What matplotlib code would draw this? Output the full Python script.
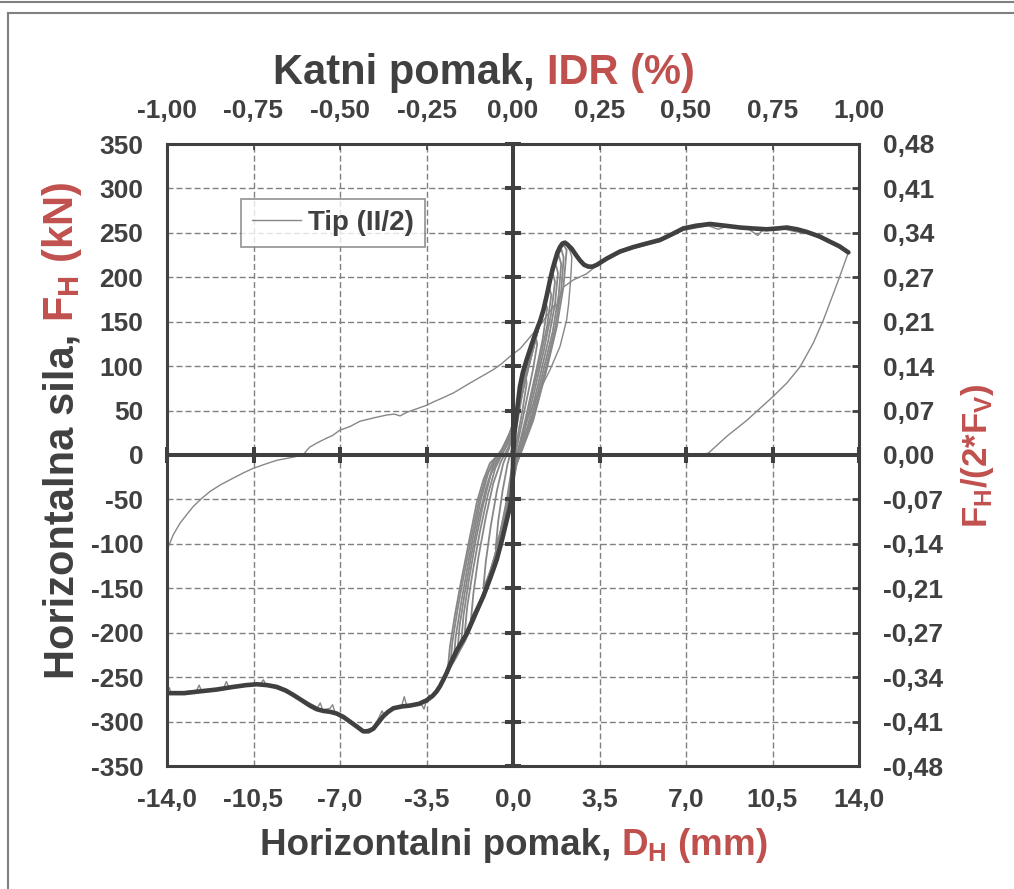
import matplotlib
matplotlib.use("Agg")
import matplotlib.pyplot as plt
from matplotlib.lines import Line2D

plt.rcParams['font.family'] = ['Liberation Sans', 'DejaVu Sans']
plt.rcParams['font.weight'] = 'bold'
plt.rcParams['mathtext.default'] = 'regular'
plt.rcParams['lines.scale_dashes'] = False

DARK = '#404040'
RED = '#C0504D'
THIN = '#878787'
GRID = '#808080'

# --- tick labels ---------------------------------------------------------
x_ticks = [-14.0, -10.5, -7.0, -3.5, 0.0, 3.5, 7.0, 10.5, 14.0]
x_labels = ['-14,0', '-10,5', '-7,0', '-3,5', '0,0', '3,5', '7,0', '10,5', '14,0']
idr_ticks = [-1.0, -0.75, -0.5, -0.25, 0.0, 0.25, 0.5, 0.75, 1.0]
idr_labels = ['-1,00', '-0,75', '-0,50', '-0,25', '0,00', '0,25', '0,50', '0,75', '1,00']
y_ticks = [350, 300, 250, 200, 150, 100, 50, 0, -50, -100, -150, -200, -250, -300, -350]
ratio_labels = ['0,48', '0,41', '0,34', '0,27', '0,21', '0,14', '0,07', '0,00',
                '-0,07', '-0,14', '-0,21', '-0,27', '-0,34', '-0,41', '-0,48']

# --- envelope (thick) ----------------------------------------------------
env_d = [-14.0, -13.3, -12.67, -12.0, -11.32, -10.8, -10.37, -9.95, -9.56, -9.2, -8.89,
         -8.55, -8.22, -7.95, -7.68, -7.4, -7.13, -6.85, -6.6, -6.3, -6.06, -5.85, -5.65,
         -5.45, -5.25, -5.05, -4.84, -4.5, -4.17, -3.8, -3.49, -3.25, -3.09, -2.95, -2.82,
         -2.68, -2.55, -2.28, -1.87, -1.55, -1.2, -0.9, -0.66, -0.45, -0.25, -0.12, -0.05,
         -0.01, 0.01, 0.06, 0.15, 0.28, 0.4, 0.55, 0.75, 0.96, 1.1, 1.23, 1.37, 1.5, 1.6,
         1.7, 1.8, 1.9, 2.0, 2.1, 2.2, 2.38, 2.55, 2.71, 2.88, 3.05, 3.22, 3.39, 3.79,
         4.06, 4.33, 4.87, 5.4, 5.95, 6.4, 6.89, 7.4, 7.97, 8.6, 9.19, 9.7, 10.27, 10.7,
         11.08, 11.5, 11.89, 12.4, 12.83, 13.2, 13.57]
env_f = [-268, -268, -266, -264, -261, -259, -258, -259, -261, -265, -270,
         -276, -282, -286, -288, -289, -291, -295, -300, -306, -311, -311, -308,
         -301, -294, -289, -285, -283, -282, -280, -276, -271, -266, -260, -253,
         -245, -236, -220, -201, -180, -159, -137, -118, -96, -73, -58, -47,
         -25, 2, 25, 47, 77, 93, 107, 124, 141, 151, 163, 180, 197, 209,
         219, 228, 234, 238, 239, 237, 232, 225, 219, 214, 212, 212, 214, 221,
         225, 229, 234, 238, 242, 248, 255, 258, 260, 258, 256, 255, 254, 255,
         256, 254, 251, 246, 240, 235, 228]

# --- thin record under the negative envelope ----------------------------
neg_d = [-14.0, -13.9, -13.85, -12.8, -12.7, -12.6, -11.7, -11.6, -11.5, -10.2, -10.1,
         -10.0, -8.9, -7.9, -7.8, -7.7, -7.4, -7.3, -7.2, -6.6, -6.06, -5.65, -5.4, -5.3,
         -5.2, -4.84, -4.5, -4.4, -4.3, -3.7, -3.6, -3.5, -3.4, -3.3, -3.09, -2.82, -2.6]
neg_f = [-266, -262, -268, -265, -259, -266, -262, -255, -261, -257, -253,
         -258, -270, -284, -279, -287, -285, -281, -290, -299, -310, -307, -294, -288,
         -293, -284, -282, -272, -282, -281, -286, -276, -270, -274, -265, -252, -240]

# --- reloading from the left edge, last push and unloading ---------------
rel_d = [-14.0, -13.75, -13.48, -13.2, -12.94, -12.6, -12.26, -11.8, -11.32, -10.9, -10.51,
         -10.0, -9.56, -9.0, -8.49, -8.35, -8.22, -7.9, -7.54, -7.3, -7.0, -6.6, -6.19, -5.6,
         -5.11, -4.8, -4.57, -4.3, -3.9, -3.49, -3.2, -2.95, -2.4, -1.74, -1.3, -0.8, -0.45,
         -0.12, 0.3, 0.82, 1.2, 1.63, 1.72, 1.77, 1.85, 2.04, 2.44, 2.98, 3.24, 3.5, 4.0,
         4.8, 5.9, 6.9, 7.9, 8.3, 8.6, 9.5, 9.9, 10.1, 11.0, 11.5, 12.0, 12.5, 12.9, 13.57,
         13.17, 12.56, 12.15, 11.61, 11.08, 10.53, 9.46, 8.65, 7.9, 7.5]
rel_f = [-107, -90, -77, -67, -58, -49, -41, -33, -26, -20, -15,
         -10, -6, -3, 0, 5, 9, 14, 19, 22, 28, 32, 38, 42,
         45, 46, 44, 48, 52, 56, 60, 63, 70, 81, 88, 96, 103,
         111, 120, 137, 150, 167, 170, 163, 175, 189, 197, 204, 210, 215, 224,
         232, 240, 253, 258, 254, 257, 255, 247, 253, 254, 251, 249, 243, 238, 228,
         197, 152, 126, 99, 81, 66, 39, 21, 2, 0]

# --- unloading from the first peak ---------------------------------------
unl_d = [2.1, 2.3, 2.38, 2.35, 2.31, 2.25, 2.17, 1.9, 1.5, 0.96, 0.55, 0.3, 0.15, 0.0]
unl_f = [239, 230, 223, 205, 190, 170, 152, 122, 96, 66, 39, 15, 0, -20]

# --- cyclic loops --------------------------------------------------------
loop1_d = [-2.65, -2.55, -2.35, -2.14, -1.8, -1.47, -1.2, -0.93, -0.53, -0.12, 0.15, 0.35,
           0.6, 1.0, 1.3, 1.55, 1.78, 1.95, 2.05, 2.17, 2.04, 1.77, 1.36, 0.82, 0.4, 0.15,
           -0.05, -0.3, -0.7, -1.25, -1.9, -2.35, -2.65]
loop1_f = [-245, -215, -180, -148, -100, -54, -28, -9, 2, 25, 48, 70,
           105, 140, 170, 200, 222, 234, 236, 231, 189, 144, 96, 39, 8, -10,
           -40, -80, -125, -165, -205, -228, -245]
loop2_d = [-2.4, -2.32, -2.12, -1.9, -1.6, -1.3, -1.0, -0.7, -0.35, -0.05, 0.2, 0.45, 0.8,
           1.1, 1.4, 1.65, 1.85, 1.95, 1.85, 1.6, 1.2, 0.75, 0.35, 0.1, -0.1, -0.4, -0.85,
           -1.4, -1.95, -2.4]
loop2_f = [-232, -205, -170, -135, -90, -50, -20, -3, 10, 30, 55, 85, 120,
           150, 185, 210, 225, 215, 180, 138, 92, 42, 10, -12, -45, -88, -135,
           -175, -210, -232]
loop3_d = [-2.1, -2.0, -1.78, -1.5, -1.2, -0.9, -0.6, -0.3, 0.0, 0.25, 0.55, 0.9, 1.2,
           1.45, 1.6, 1.7, 1.55, 1.25, 0.85, 0.45, 0.15, -0.1, -0.35, -0.75, -1.2, -1.7, -2.1]
loop3_f = [-212, -180, -140, -95, -55, -22, -5, 8, 30, 58, 92, 128, 162,
           190, 205, 195, 160, 118, 70, 25, -5, -35, -70, -115, -155, -192, -212]
loop4_d = [-1.7, -1.6, -1.4, -1.1, -0.8, -0.5, -0.2, 0.05, 0.3, 0.6, 0.95, 1.2, 1.3,
           1.38, 1.2, 0.9, 0.5, 0.2, -0.05, -0.3, -0.65, -1.05, -1.45, -1.7]
loop4_f = [-185, -155, -115, -70, -32, -8, 8, 30, 60, 95, 135, 160, 175,
           165, 130, 90, 40, 5, -25, -60, -105, -145, -172, -185]
loop5_d = [-1.2, -1.1, -0.9, -0.65, -0.4, -0.15, 0.1, 0.35, 0.65, 0.9,
           0.98, 0.8, 0.5, 0.2, 0.0, -0.25, -0.55, -0.9, -1.2]
loop5_f = [-150, -120, -80, -40, -10, 8, 35, 68, 105, 135,
           125, 95, 55, 15, -15, -55, -95, -130, -150]
loop6_d = [-0.7, -0.6, -0.42, -0.22, 0.0, 0.2, 0.38, 0.5, 0.55, 0.38, 0.15, -0.05, -0.25,
           -0.5, -0.7]
loop6_f = [-105, -75, -40, -10, 12, 40, 70, 95, 80, 50, 15, -15, -50, -85, -105]
loop7_d = [-2.55, -2.45, -2.25, -2.02, -1.7, -1.38, -1.1, -0.8, -0.45, -0.1, 0.15, 0.4, 0.7,
           1.05, 1.35, 1.6, 1.82, 1.95, 2.05, 1.95, 1.7, 1.3, 0.8, 0.38, 0.12, -0.08, -0.35,
           -0.78, -1.33, -1.92, -2.3, -2.55]
loop7_f = [-240, -210, -175, -140, -95, -52, -25, -7, 5, 27, 50, 78, 112,
           145, 178, 205, 225, 232, 222, 185, 142, 95, 42, 8, -12, -42, -84,
           -130, -170, -207, -228, -240]
loop8_d = [-2.25, -2.16, -1.95, -1.7, -1.4, -1.1, -0.8, -0.5, -0.2, 0.05, 0.3, 0.6, 0.95,
           1.25, 1.5, 1.72, 1.82, 1.7, 1.42, 1.02, 0.6, 0.25, 0.0, -0.25, -0.6, -1.05, -1.55,
           -1.95, -2.25]
loop8_f = [-222, -192, -155, -115, -72, -38, -12, 3, 18, 40, 68, 102, 138,
           170, 198, 215, 205, 170, 128, 80, 33, 2, -25, -62, -108, -150, -185,
           -208, -222]
loop9_d = [-1.95, -1.85, -1.62, -1.33, -1.02, -0.72, -0.42, -0.12, 0.12, 0.4, 0.75, 1.05,
           1.3, 1.45, 1.55, 1.38, 1.05, 0.65, 0.3, 0.05, -0.2, -0.5, -0.9, -1.35, -1.7, -1.95]
loop9_f = [-200, -170, -130, -85, -45, -15, 2, 18, 42, 75, 112, 145,
           172, 190, 180, 145, 102, 55, 12, -18, -52, -92, -135, -170, -190, -200]

loops = [(loop1_d, loop1_f), (loop2_d, loop2_f), (loop3_d, loop3_f),
         (loop4_d, loop4_f), (loop5_d, loop5_f), (loop6_d, loop6_f),
         (loop7_d, loop7_f), (loop8_d, loop8_f), (loop9_d, loop9_f)]

W, H = 1014, 889
fig = plt.figure(figsize=(W / 100, H / 100), dpi=100)
ax = fig.add_axes([167 / W, 1 - 766 / H, 692 / W, 622 / H])

# thin test record
for d, f in loops:
    ax.plot(d, f, color=THIN, lw=1.3, zorder=3)
ax.plot(unl_d, unl_f, color=THIN, lw=1.0, zorder=3)
ax.plot(rel_d, rel_f, color=THIN, lw=1.0, zorder=3)
ax.plot(neg_d, neg_f, color=THIN, lw=1.0, zorder=3)

# zero lines with cross ticks
ax.axhline(0, color=DARK, lw=2.9, zorder=4)
ax.axvline(0, color=DARK, lw=2.9, zorder=4)
ax.plot(x_ticks, [0] * len(x_ticks), ls='none', marker='|', ms=11, mew=2.9,
        color=DARK, zorder=4, clip_on=False)
ax.plot([0] * len(y_ticks), y_ticks, ls='none', marker='_', ms=11, mew=2.9,
        color=DARK, zorder=4, clip_on=False)

# envelope
ax.plot(env_d, env_f, color=DARK, lw=3.3, zorder=5, solid_joinstyle='round',
        solid_capstyle='round')

ax.set_xlim(-14, 14)
ax.set_ylim(-350, 350)
ax.set_xticks(x_ticks)
ax.set_xticklabels(x_labels)
ax.set_yticks(y_ticks)
ax.set_yticklabels([str(v) for v in y_ticks])
ax.tick_params(axis='both', length=0, labelsize=19, labelcolor=DARK)
ax.tick_params(axis='x', pad=16)
ax.tick_params(axis='y', pad=17)
ax.grid(True, color=GRID, lw=1.0, linestyle=(0, (4.3, 2.2)), zorder=1)
for s in ax.spines.values():
    s.set_color(DARK)
    s.set_linewidth(2.2)
    s.set_zorder(6)

# drift on top
axt = ax.twiny()
axt.set_xlim(-1, 1)
axt.set_xticks(idr_ticks)
axt.set_xticklabels(idr_labels)
axt.tick_params(axis='x', direction='in', length=4, width=1.2, color=DARK,
                labelsize=19, labelcolor=DARK, pad=15)
for s in axt.spines.values():
    s.set_visible(False)

# force ratio on the right
axr = ax.twinx()
axr.set_ylim(-350, 350)
axr.set_yticks(y_ticks)
axr.set_yticklabels(ratio_labels)
axr.tick_params(axis='y', direction='in', length=5, width=2, color=DARK,
                labelsize=19, labelcolor=DARK, pad=17)
for s in axr.spines.values():
    s.set_visible(False)

leg = ax.legend([Line2D([], [], color=THIN, lw=1.0)], ['Tip (II/2)'],
                loc='upper left', bbox_to_anchor=(0.107, 0.9116), fontsize=20,
                frameon=True, fancybox=False, handlelength=1.75, handletextpad=0.25,
                borderpad=0.4, borderaxespad=0)
leg.get_frame().set_edgecolor(GRID)
leg.get_frame().set_linewidth(1.3)
leg.set_zorder(7)
for t in leg.get_texts():
    t.set_color(DARK)


def label_parts(parts, xc, base, size, vertical=False):
    """Write a title made of differently coloured pieces, centred on xc (or yc)."""
    r = fig.canvas.get_renderer()
    arts, lens = [], []
    for s, c in parts:
        t = fig.text(0, 0, s, color=c, fontsize=size, fontweight='bold',
                     ha='left', va='baseline', rotation_mode='anchor')
        lens.append(t.get_window_extent(r).width)
        arts.append(t)
    gap = size * 100 / 72 * 0.278
    total = sum(lens) + gap * (len(parts) - 1)
    off = 0
    for t, w in zip(arts, lens):
        if vertical:
            t.set_rotation(90)
            t.set_position((base / W, 1 - (xc + total / 2 - off) / H))
        else:
            t.set_position(((xc - total / 2 + off) / W, 1 - base / H))
        off += w + gap


label_parts([('Horizontalni pomak,', DARK), (r'D$_{\mathregular{H}}$ (mm)', RED)],
            514, 855, 26.5)
label_parts([('Katni pomak,', DARK), ('IDR (%)', RED)], 484, 84, 30)
label_parts([('Horizontalna sila,', DARK), (r'F$_{\mathregular{H}}$ (kN)', RED)],
            430, 73, 30, vertical=True)
label_parts([(r'F$_{\mathregular{H}}$/(2*F$_{\mathregular{V}}$)', RED)],
            456, 987, 25, vertical=True)

# outer frame
fig.add_artist(Line2D([0, 1], [1 - 1.5 / H, 1 - 1.5 / H], color=GRID, lw=1.5))
fig.add_artist(Line2D([7.5 / W, 1], [1 - 12.5 / H, 1 - 12.5 / H], color=GRID, lw=1.5))
fig.add_artist(Line2D([7.5 / W, 7.5 / W], [0, 1 - 12.5 / H], color=GRID, lw=1.5))

fig.savefig('out.png', dpi=100)
